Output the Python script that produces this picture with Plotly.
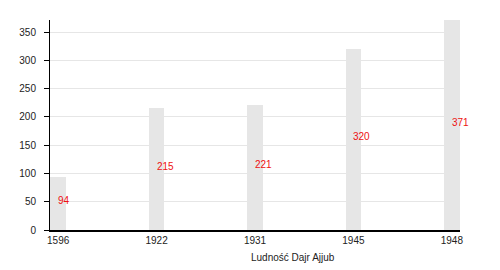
import plotly.graph_objects as go

years = ["1596", "1922", "1931", "1945", "1948"]
population = [94, 215, 221, 320, 371]
axis_title = "Ludność Dajr Ajjub"

idx = list(range(len(years)))
FONT = "Liberation Sans, Arial, sans-serif"

fig = go.Figure()
fig.add_trace(go.Bar(
    x=idx, y=population, width=0.16,
    marker=dict(color="#e6e6e6", line=dict(width=0)),
    hoverinfo="skip",
))

for i, v in zip(idx, population):
    fig.add_annotation(
        x=i, y=v / 2, text=str(v), showarrow=False,
        xanchor="left", yanchor="middle", yshift=3, xshift=-2,
        font=dict(color="#ee1111", size=10, family=FONT),
    )

fig.add_annotation(
    x=0.593, y=-0.133, xref="paper", yref="paper", text=axis_title,
    showarrow=False, xanchor="center", yanchor="middle",
    font=dict(color="#222222", size=10, family=FONT),
)

fig.update_layout(
    width=500, height=270,
    margin=dict(l=50, r=40, t=20, b=40),
    paper_bgcolor="white", plot_bgcolor="white",
    showlegend=False,
    font=dict(family=FONT, size=10, color="#222222"),
    bargap=0,
)
fig.update_xaxes(
    range=[-0.083, 4.083], tickvals=idx, ticktext=years,
    showgrid=False, zeroline=False, showline=True, linecolor="black", linewidth=1.5,
    ticks="", tickfont=dict(size=10, color="#222222"),
)
fig.update_yaxes(
    range=[0, 371.5], tick0=0, dtick=50,
    showgrid=True, gridcolor="#e6e6e6", gridwidth=1,
    zeroline=False, showline=True, linecolor="black", linewidth=1,
    ticks="outside", ticklen=5, tickcolor="black", ticklabelstandoff=6,
    tickfont=dict(size=10, color="#222222"),
)

fig.write_html("out.html")
